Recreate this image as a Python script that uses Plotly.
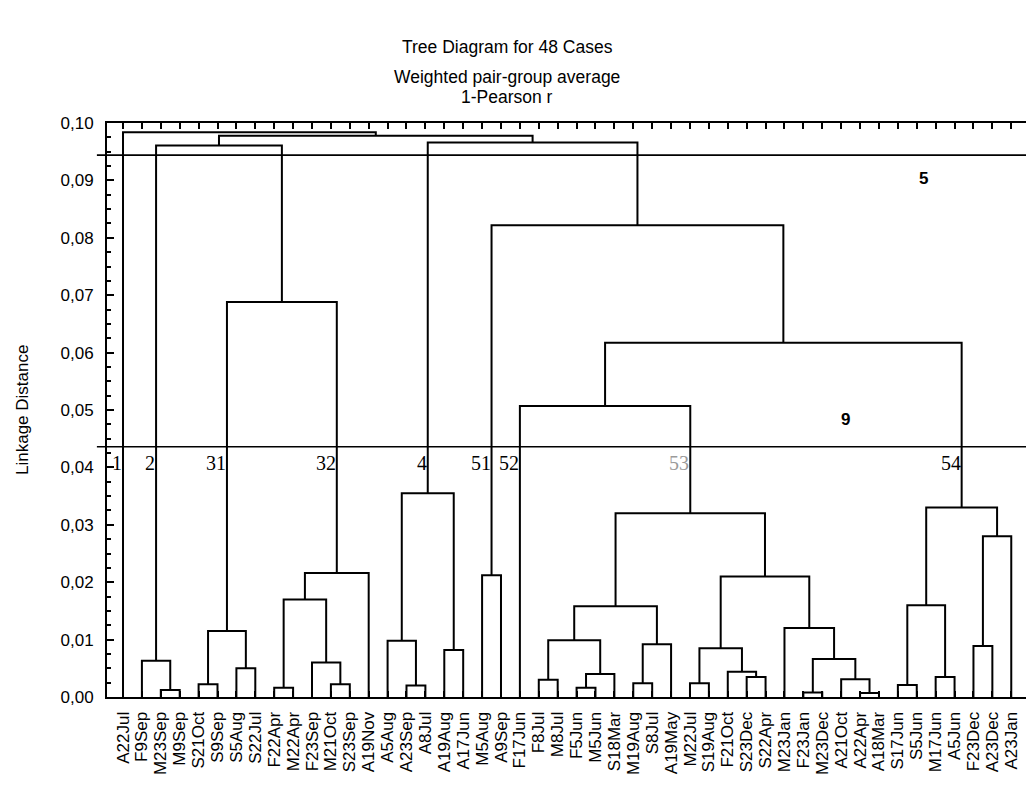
import plotly.graph_objects as go

# ---------------- data ----------------
leaf_labels = ["A22Jul", "F9Sep", "M23Sep", "M9Sep", "S21Oct", "S9Sep", "S5Aug", "S22Jul",
               "F22Apr", "M22Apr", "F23Sep", "M21Oct", "S23Sep", "A19Nov", "A5Aug", "A23Sep",
               "A8Jul", "A19Aug", "A17Jun", "M5Aug", "A9Sep", "F17Jun", "F8Jul", "M8Jul",
               "F5Jun", "M5Jun", "S18Mar", "M19Aug", "S8Jul", "A19May", "M22Jul", "S19Aug",
               "F21Oct", "S23Dec", "S22Apr", "M23Jan", "F23Jan", "M23Dec", "A21Oct", "A22Apr",
               "A18Mar", "S17Jun", "S5Jun", "M17Jun", "A5Jun", "F23Dec", "A23Dec", "A23Jan"]

# merge k creates node "N{k+1}"
merge_left = ["M23Sep", "F9Sep", "S21Oct", "S5Aug", "N3", "F22Apr", "M21Oct", "F23Sep", "N6", "N9",
              "N5", "N2", "A23Sep", "A5Aug", "A19Aug", "N14", "M5Aug", "F8Jul", "F5Jun", "N19",
              "N18", "M19Aug", "N22", "N21", "M22Jul", "S23Dec", "F21Oct", "N25", "F23Jan", "A22Apr",
              "A21Oct", "N29", "M23Jan", "N28", "N24", "F17Jun", "S17Jun", "M17Jun", "N37", "F23Dec",
              "N40", "N39", "N36", "N17", "N16", "N12", "A22Jul"]
merge_right = ["M9Sep", "N1", "S9Sep", "S22Jul", "N4", "M22Apr", "S23Sep", "N7", "N8", "A19Nov",
               "N10", "N11", "A8Jul", "N13", "A17Jun", "N15", "A9Sep", "M8Jul", "M5Jun", "S18Mar",
               "N20", "S8Jul", "A19May", "N23", "S19Aug", "S22Apr", "N26", "N27", "M23Dec", "A18Mar",
               "N30", "N31", "N32", "N33", "N34", "N35", "S5Jun", "A5Jun", "N38", "A23Dec",
               "A23Jan", "N41", "N42", "N43", "N44", "N45", "N46"]
merge_height = [0.0012, 0.0063, 0.0022, 0.0050, 0.0115, 0.0016, 0.0022, 0.0060, 0.0170, 0.0216,
                0.0688, 0.0961, 0.0020, 0.0098, 0.0082, 0.0355, 0.0212, 0.0030, 0.0016, 0.0040,
                0.0099, 0.0024, 0.0092, 0.0158, 0.0024, 0.0035, 0.0044, 0.0085, 0.0008, 0.0007,
                0.0031, 0.0066, 0.0120, 0.0210, 0.0320, 0.0507, 0.0021, 0.0035, 0.0160, 0.0089,
                0.0280, 0.0330, 0.0617, 0.0822, 0.0966, 0.0978, 0.0984]

cut_levels = [0.0944, 0.0436]
cluster_names = ["1", "2", "31", "32", "4", "51", "52", "53", "54"]
cluster_nodes = ["A22Jul", "N2", "N5", "N10", "N16", "N17", "F17Jun", "N35", "N42"]
cluster_colors = ["black"] * 7 + ["#9a9a9a", "black"]

y_ticks = [0.00, 0.01, 0.02, 0.03, 0.04, 0.05, 0.06, 0.07, 0.08, 0.09, 0.10]

# ---------------- build dendrogram geometry ----------------
pos = {name: float(i) for i, name in enumerate(leaf_labels)}
hgt = {name: 0.0 for name in leaf_labels}
xs, ys = [], []
for k, (a, b, h) in enumerate(zip(merge_left, merge_right, merge_height)):
    node = f"N{k+1}"
    xa, xb = pos[a], pos[b]
    xs += [xa, xa, xb, xb, None]
    ys += [hgt[a], h, h, hgt[b], None]
    pos[node] = (xa + xb) / 2
    hgt[node] = h

fig = go.Figure()
fig.add_trace(go.Scatter(x=xs, y=ys, mode="lines",
                         line=dict(color="black", width=2),
                         hoverinfo="skip", showlegend=False))

for lvl in cut_levels:
    fig.add_shape(type="line", xref="paper", x0=-0.011, x1=1.0, yref="y", y0=lvl, y1=lvl,
                  line=dict(color="black", width=1.6))

for name, node, col in zip(cluster_names, cluster_nodes, cluster_colors):
    fig.add_annotation(x=pos[node], y=cut_levels[1], xref="x", yref="y", text=name,
                       showarrow=False, xanchor="right", yanchor="top", xshift=1, yshift=-3,
                       font=dict(family="Liberation Serif", size=20, color=col))

# group counts
fig.add_annotation(x=0.804, y=0.4826, xref="paper", yref="paper", text="<b>9</b>", showarrow=False,
                   xanchor="center", yanchor="middle",
                   font=dict(family="Liberation Sans", size=17, color="black"))
fig.add_annotation(x=0.888, y=0.904, xref="paper", yref="paper", text="<b>5</b>", showarrow=False,
                   xanchor="center", yanchor="middle",
                   font=dict(family="Liberation Sans", size=17, color="black"))

# titles
title_lines = ["Tree Diagram for 48 Cases", "Weighted pair-group average", "1-Pearson r"]
title_y = [1.1324, 1.0801, 1.0453]
for t, yy in zip(title_lines, title_y):
    fig.add_annotation(x=0.4353, y=yy, xref="paper", yref="paper", text=t, showarrow=False,
                       xanchor="center", yanchor="middle",
                       font=dict(family="Liberation Sans", size=17.5, color="black"))

fig.add_annotation(x=-0.0925, y=0.5, xref="paper", yref="paper", text="Linkage Distance",
                   textangle=-90, showarrow=False, xanchor="center", yanchor="middle",
                   font=dict(family="Liberation Sans", size=17, color="black"))

fig.update_layout(
    width=1026, height=786,
    margin=dict(l=107, r=0, t=123, b=89),
    paper_bgcolor="white", plot_bgcolor="white",
    separators=",.",
    showlegend=False,
    xaxis=dict(range=[-0.847, 47.78], tickmode="array", tickvals=list(range(len(leaf_labels))),
               ticktext=leaf_labels, tickangle=-90, ticks="inside", ticklen=6, tickwidth=1.5,
               tickcolor="black", showline=True, linecolor="black", linewidth=2,
               mirror="ticks", showgrid=False, zeroline=False,
               tickfont=dict(family="Liberation Sans", size=17, color="black"),
               ticklabelstandoff=6),
    yaxis=dict(range=[0, 0.10], tickmode="array", tickvals=y_ticks, tickformat=".2f",
               ticks="inside", ticklen=7, tickwidth=2, tickcolor="black",
               minor=dict(dtick=0.0025, ticks="inside", ticklen=4, tickwidth=1.5, tickcolor="black"),
               showline=True, linecolor="black", linewidth=2, showgrid=False, zeroline=False,
               tickfont=dict(family="Liberation Sans", size=17, color="black"),
               ticklabelstandoff=8),
)

fig.write_html("out.html")
